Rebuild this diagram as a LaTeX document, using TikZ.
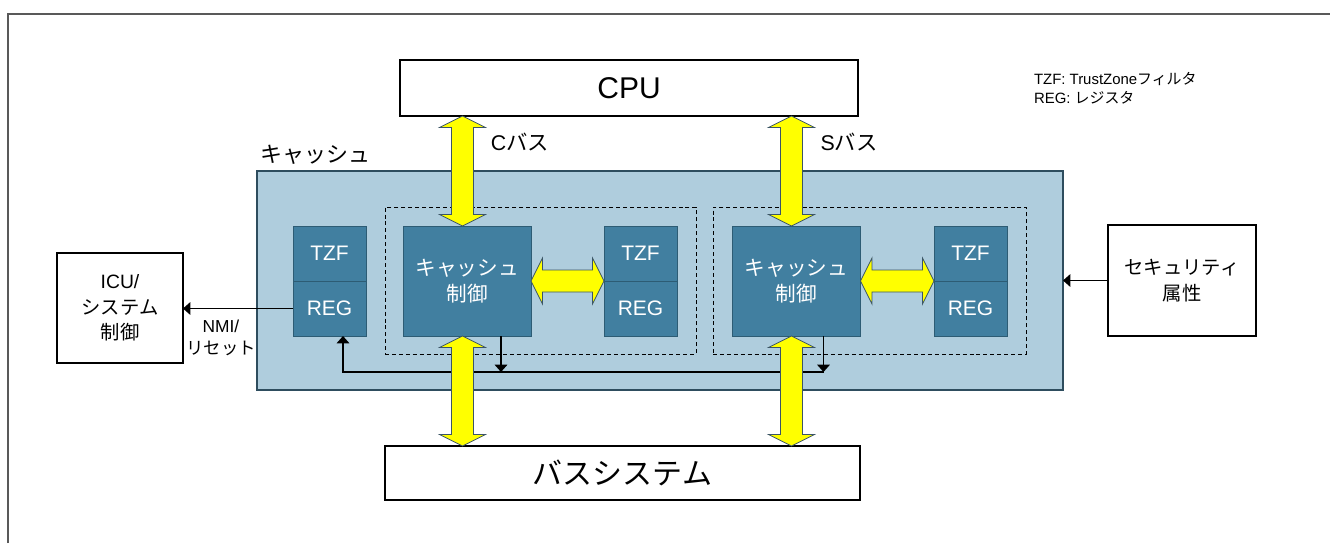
\documentclass[tikz,border=0pt]{standalone}
\usepackage{fontspec}
\setmainfont{Liberation Sans}
\newfontfamily\jp{Noto Sans CJK JP}
\usetikzlibrary{positioning,calc,arrows.meta}

\definecolor{cachefill}{HTML}{AFCDDD}
\definecolor{cacheedge}{HTML}{2E4D5E}
\definecolor{blockfill}{HTML}{417FA0}
\definecolor{blockedge}{HTML}{2D5C74}
\definecolor{busyellow}{HTML}{FFFF00}
\definecolor{busedge}{HTML}{3B5566}
\definecolor{framegray}{HTML}{595959}

% fat double arrows: vertical (top point, bottom point) and horizontal (left, right)
\newcommand\vbus[2]{\draw[bus] let \p1=(#1), \p2=(#2) in
  (\x1,\y1) -- (\x1+17.25pt,\y1-8.6pt) -- (\x1+8.25pt,\y1-8.6pt) -- (\x1+8.25pt,\y2+8.6pt)
  -- (\x1+17.25pt,\y2+8.6pt) -- (\x1,\y2) -- (\x1-17.25pt,\y2+8.6pt) -- (\x1-8.25pt,\y2+8.6pt)
  -- (\x1-8.25pt,\y1-8.6pt) -- (\x1-17.25pt,\y1-8.6pt) -- cycle;}
\newcommand\hbus[2]{\draw[bus] let \p1=(#1), \p2=(#2) in
  (\x1,\y1) -- (\x1+8.6pt,\y1+17.25pt) -- (\x1+8.6pt,\y1+8.25pt) -- (\x2-8.6pt,\y1+8.25pt)
  -- (\x2-8.6pt,\y1+17.25pt) -- (\x2,\y1) -- (\x2-8.6pt,\y1-17.25pt) -- (\x2-8.6pt,\y1-8.25pt)
  -- (\x1+8.6pt,\y1-8.25pt) -- (\x1+8.6pt,\y1-17.25pt) -- cycle;}

\begin{document}
\begin{tikzpicture}[
  x=0.75pt, y=-0.75pt,
  every node/.style={inner sep=0pt, outer sep=0pt},
  frameline/.style={draw=framegray, line width=1.1pt},
  block/.style={draw=black, fill=white, line width=1.6pt, align=center},
  cachebox/.style={draw=cacheedge, fill=cachefill, line width=1.6pt},
  group/.style={draw=black, line width=0.75pt, dash pattern=on 3pt off 2.2pt},
  ctrlbox/.style={draw=blockedge, fill=blockfill, line width=0.75pt, text=white, align=center,
    minimum width=96pt, minimum height=82.5pt, font=\fontsize{15.5}{20}\selectfont\jp},
  regbox/.style={draw=blockedge, fill=blockfill, line width=0.75pt, text=white,
    minimum width=54.75pt, minimum height=41.25pt, font=\fontsize{15.75}{19}\selectfont},
  sig/.style={draw=black, line width=0.9pt, -{Triangle[length=5.5pt, width=9.5pt]}},
  bus/.style={fill=busyellow, draw=busedge, line width=0.6pt, line join=miter},
  buslabel/.style={font=\fontsize{16}{19}\selectfont},
  legend/.style={font=\fontsize{11.2}{14}\selectfont},
]
\useasboundingbox (0,0) rectangle (1330,543);
\draw[frameline] (8,543) -- (8,14) -- (1330,14);

\node[cachebox, minimum width=604.5pt, minimum height=164.25pt] (cache) at (660,280.5) {};
\node[anchor=south west, font=\fontsize{16.5}{20}\selectfont\jp] (cachelbl)
  at ($(cache.north west)+(3,-7)$) {キャッシュ};
\node[group, minimum width=233.25pt, minimum height=110.25pt] (grpc) at (540.5,280.5) {};
\node[group, minimum width=234.75pt, minimum height=110.25pt] (grps) at (869.5,280.5) {};

\node[regbox] (tzf0) at (329.5,253.5) {TZF};
\node[regbox, below=0pt of tzf0] (reg0) {REG};
\node[ctrlbox] (ctrlc) at (467,281) {キャッシュ\\制御};
\node[regbox] (tzfc) at (640.5,253.5) {TZF};
\node[regbox, below=0pt of tzfc] (regc) {REG};
\node[ctrlbox] (ctrls) at (796.5,281) {キャッシュ\\制御};
\node[regbox] (tzfs) at (970.5,253.5) {TZF};
\node[regbox, below=0pt of tzfs] (regs) {REG};

\node[block, minimum width=343.5pt, minimum height=42pt,
  font=\fontsize{22.5}{27}\selectfont] (cpu) at (629,88) {CPU};
\node[block, minimum width=356.25pt, minimum height=40.5pt,
  font=\fontsize{22.5}{27}\selectfont\jp] (bussys) at (622.5,473) {バスシステム};
\node[block, minimum width=94.5pt, minimum height=82.5pt,
  font=\fontsize{14.5}{19}\selectfont] (icu) at (120,308) {ICU/\\{\jp システム}\\{\jp 制御}};
\node[block, minimum width=111pt, minimum height=83.25pt,
  font=\fontsize{14.5}{20}\selectfont\jp] (secattr) at (1182,280.5) {セキュリティ\\属性};

% signal lines
\draw[sig] (reg0.west) -- (reg0.west -| icu.east);
\draw[sig] (secattr.west) -- (secattr.west -| cache.east);
\coordinate (outc) at ($(ctrlc.south east)+(-30,0)$);
\coordinate (outs) at ($(ctrls.south east)+(-37,0)$);
\coordinate (fbk) at ($(reg0.south)+(13.5,36)$);
\draw[sig] (outc) -- (outc |- fbk);
\draw[sig] (outs) -- (outs |- fbk);
\draw[sig] (outs |- fbk) -- (fbk) -- (fbk |- reg0.south);

% buses
\coordinate (cbus) at ($(ctrlc.north)+(-4.5,0)$);
\coordinate (sbus) at ($(ctrls.north)+(-5,0)$);
\coordinate (cbusdn) at ($(ctrlc.south)+(-4.5,0)$);
\coordinate (sbusdn) at ($(ctrls.south)+(-5,0)$);
\vbus{cbus |- cpu.south}{cbus}
\vbus{sbus |- cpu.south}{sbus}
\vbus{cbusdn}{cbusdn |- bussys.north}
\vbus{sbusdn}{sbusdn |- bussys.north}
\hbus{ctrlc.east}{ctrlc.east -| tzfc.west}
\hbus{ctrls.east}{ctrls.east -| tzfs.west}

\node[buslabel] (cbuslbl) at (520,142.5) {C{\jp バス}};
\node[buslabel] (sbuslbl) at (849,142.5) {S{\jp バス}};
\node[align=center, font=\fontsize{13}{17}\selectfont] (nmilbl) at (221,338) {NMI/\\{\jp リセット}};
\node[legend, anchor=base west] (legtzf) at (1034,84) {TZF: TrustZone{\jp フィルタ}};
\node[legend, anchor=base west] (legreg) at (1034,103.5) {REG: {\jp レジスタ}};
\end{tikzpicture}
\end{document}
